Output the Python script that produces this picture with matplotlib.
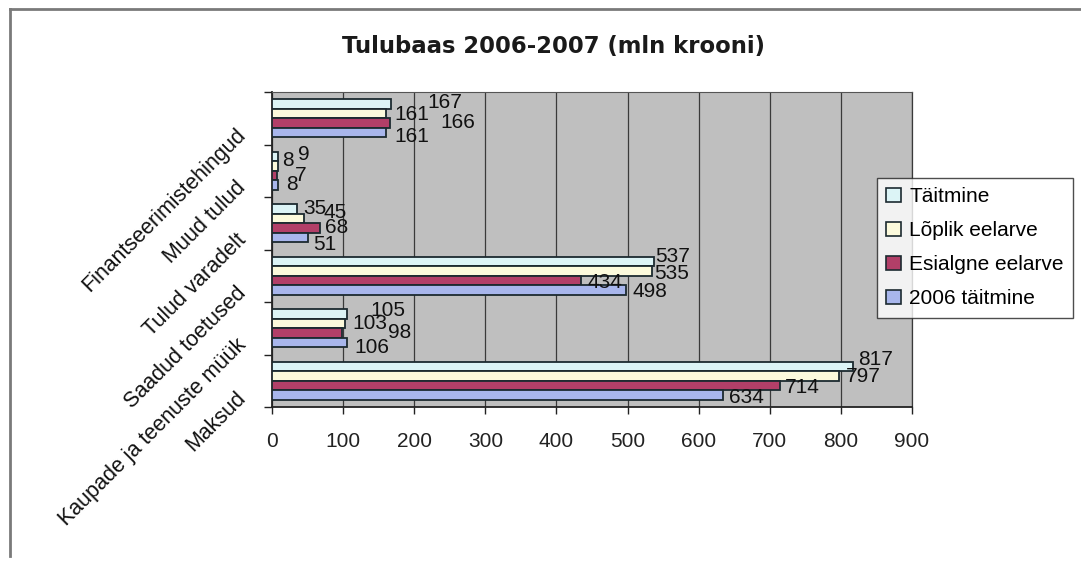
import matplotlib
matplotlib.use('Agg')
import matplotlib.pyplot as plt
import matplotlib.transforms as mtransforms
from matplotlib.patches import Patch
from matplotlib.lines import Line2D
import numpy as np

plt.rcParams['font.family'] = ['Liberation Sans', 'DejaVu Sans']

# data, bottom to top as drawn
categories = ['Maksud', 'Kaupade ja teenuste müük', 'Saadud toetused',
              'Tulud varadelt', 'Muud tulud', 'Finantseerimistehingud']
series_names = ['Täitmine', 'Lõplik eelarve', 'Esialgne eelarve', '2006 täitmine']
taitmine = [817, 105, 537, 35, 9, 167]
loplik_eelarve = [797, 103, 535, 45, 8, 161]
esialgne_eelarve = [714, 98, 434, 68, 7, 166]
taitmine_2006 = [634, 106, 498, 51, 8, 161]
x_ticks = [0, 100, 200, 300, 400, 500, 600, 700, 800, 900]

colors = ['#dcf4f6', '#fcfadc', '#b23f68', '#a8b6ec']
edge = '#1c2a30'

# nudges of the value labels (pixels, from bar end / bar centre), one row per category
label_dx = [[5, 7, 5, 6], [24, 7, 46, 7], [1, 2, 7, 6],
            [6, 19, 5, 5], [20, 4, 18, 8], [37, 8, 50, 8]]
label_dy = [[7, 0, -2, -3], [4, 0, 0, -5], [5, -2, -2, -2],
            [1, 6, 0, -7], [2, 6, 0, 0], [2, -1, 0, -4]]

W, H = 1081, 564
fig = plt.figure(figsize=(W / 100, H / 100), dpi=100)
ax = fig.add_axes([272 / W, 1 - 407 / H, 640 / W, 315 / H])
ax.set_facecolor('#bfbfbf')

values = [taitmine, loplik_eelarve, esialgne_eelarve, taitmine_2006]
y = np.arange(len(categories))
h = 0.18
offsets = [1.5 * h, 0.5 * h, -0.5 * h, -1.5 * h]
px2pt = 0.72

for s, vals in enumerate(values):
    ax.barh(y + offsets[s], vals, height=h, color=colors[s], edgecolor=edge,
            linewidth=1.3, zorder=3)
    for c, v in enumerate(vals):
        ax.annotate(str(v), xy=(v, y[c] + offsets[s]),
                    xytext=(label_dx[c][s] * px2pt, label_dy[c][s] * px2pt),
                    textcoords='offset points', ha='left', va='center',
                    fontsize=15, color='#111111', zorder=4)

ax.set_xlim(0, 900)
ax.set_ylim(-0.5, len(categories) - 0.5)
ax.set_xticks(x_ticks)
ax.set_xticklabels([str(t) for t in x_ticks])
ax.tick_params(axis='x', direction='out', length=5, width=1, pad=13,
               labelsize=15, colors='#222222')
ax.xaxis.grid(True, color='#3a3a3a', linewidth=0.9, zorder=1)
ax.set_axisbelow(True)

ax.set_yticks(y)
ax.set_yticklabels(categories, rotation=45, ha='right', va='center',
                   rotation_mode='anchor', fontsize=15.5, color='#111111')
ax.tick_params(axis='y', which='major', length=0, pad=21)
ax.set_yticks(np.arange(len(categories) + 1) - 0.5, minor=True)
ax.tick_params(axis='y', which='minor', direction='out', length=6, width=1,
               color='#222222')
shift = mtransforms.ScaledTranslation(0, -14 / 100, fig.dpi_scale_trans)
for lab in ax.get_yticklabels():
    lab.set_transform(lab.get_transform() + shift)

for side in ['left', 'bottom']:
    ax.spines[side].set_color('#222222')
    ax.spines[side].set_linewidth(1.3)
ax.spines['top'].set_color('#555555')
ax.spines['top'].set_linewidth(0.8)
ax.spines['right'].set_color('#3a3a3a')
ax.spines['right'].set_linewidth(0.9)

handles = [Patch(facecolor=colors[i], edgecolor=edge, linewidth=1.2) for i in range(4)]
leg = fig.legend(handles, series_names, loc='upper left',
                 bbox_to_anchor=(877 / W, 1 - 178 / H), fontsize=15,
                 frameon=True, fancybox=False, handlelength=0.7, handleheight=0.7,
                 handletextpad=0.4, labelspacing=0.72, borderpad=0.45,
                 borderaxespad=0)
leg.get_frame().set_edgecolor('#222222')
leg.get_frame().set_linewidth(1.0)

fig.text(553 / W, 1 - 47 / H, 'Tulubaas 2006-2007 (mln krooni)',
         ha='center', va='center', fontsize=16.4, fontweight='bold',
         family=['DejaVu Sans'], color='#1a1a1a')

# chart frame (top and left edges visible)
fig.add_artist(Line2D([10 / W, 1], [1 - 9 / H, 1 - 9 / H], transform=fig.transFigure,
                      color='#7a7a7a', linewidth=2))
fig.add_artist(Line2D([10 / W, 10 / W], [1 - 9 / H, 1 - 556 / H], transform=fig.transFigure,
                      color='#7a7a7a', linewidth=2))

fig.savefig('out.png', dpi=100, facecolor='white')
